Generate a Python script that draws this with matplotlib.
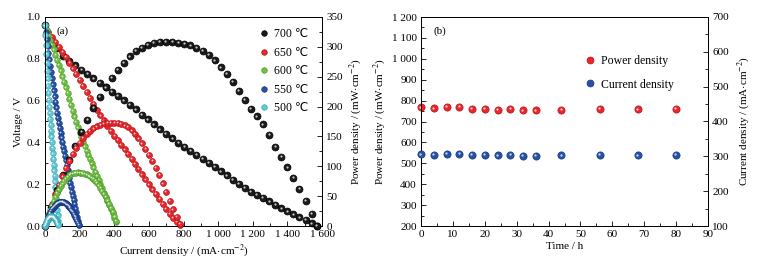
import matplotlib
matplotlib.use("Agg")
import matplotlib.pyplot as plt
from matplotlib.lines import Line2D
from matplotlib.ticker import MultipleLocator, FuncFormatter
from matplotlib.transforms import offset_copy

plt.rcParams['font.family'] = ['Liberation Serif', 'DejaVu Sans']
plt.rcParams['mathtext.fontset'] = 'stix'
plt.rcParams['font.size'] = 8

# ---------------- data: panel (a) ----------------
i700 = [0, 35, 70, 105, 140, 175, 210, 245, 280, 315, 350, 385, 420, 455, 490, 525, 560, 595,
        630, 665, 700, 735, 770, 805, 840, 875, 910, 945, 980, 1015, 1050, 1085, 1120, 1155,
        1190, 1225, 1260, 1295, 1330, 1365, 1400, 1435, 1470, 1505, 1540, 1570]
v700 = [0.960, 0.900, 0.850, 0.815, 0.790, 0.768, 0.748, 0.727, 0.706, 0.685, 0.664, 0.643,
        0.622, 0.601, 0.580, 0.558, 0.533, 0.510, 0.486, 0.463, 0.440, 0.419, 0.398, 0.379,
        0.360, 0.341, 0.322, 0.303, 0.283, 0.262, 0.243, 0.222, 0.202, 0.183, 0.165, 0.150,
        0.135, 0.118, 0.100, 0.085, 0.070, 0.056, 0.042, 0.028, 0.013, 0.000]
p700 = [0, 31.5, 59.5, 85.6, 110.6, 134.4, 157.1, 178.1, 197.7, 215.8, 232.4, 247.6, 261.2,
        273.5, 284.2, 293.0, 298.5, 303.5, 306.2, 307.9, 308.0, 308.0, 306.5, 305.1, 302.4,
        298.4, 293.0, 286.3, 277.3, 265.9, 255.2, 240.9, 226.2, 211.4, 196.4, 183.8, 170.1,
        152.8, 133.0, 116.0, 98.0, 80.4, 61.7, 42.1, 20.0, 0]

i650 = [0, 20, 40, 60, 80, 100, 120, 140, 160, 180, 200, 220, 240, 260, 280, 300, 320, 340,
        360, 380, 400, 420, 440, 460, 480, 500, 520, 540, 560, 580, 600, 620, 640, 660, 680,
        700, 720, 740, 760, 780]
v650 = [0.960, 0.930, 0.905, 0.880, 0.856, 0.832, 0.808, 0.782, 0.755, 0.727, 0.699, 0.670,
        0.641, 0.612, 0.584, 0.556, 0.530, 0.505, 0.480, 0.456, 0.433, 0.411, 0.389, 0.367,
        0.345, 0.320, 0.296, 0.272, 0.247, 0.223, 0.199, 0.176, 0.153, 0.130, 0.105, 0.081,
        0.058, 0.038, 0.020, 0.005]
p650 = [0, 18.6, 36.2, 52.8, 68.5, 83.2, 97.0, 109.5, 120.8, 130.9, 139.8, 147.4, 153.8,
        159.1, 163.5, 166.8, 169.6, 171.7, 172.8, 173.3, 173.2, 172.6, 171.2, 168.8, 165.6,
        160.0, 153.9, 146.9, 138.3, 129.3, 119.4, 109.1, 97.9, 85.8, 71.4, 56.7, 41.8, 28.1,
        15.2, 3.9]

i600 = [0, 10, 20, 30, 40, 50, 60, 70, 80, 90, 100, 110, 120, 130, 140, 150, 160, 170, 180,
        190, 200, 210, 220, 230, 240, 250, 260, 270, 280, 290, 300, 310, 320, 330, 340, 350,
        360, 370, 380, 390, 400, 410]
v600 = [0.960, 0.937, 0.914, 0.891, 0.868, 0.845, 0.820, 0.795, 0.770, 0.745, 0.716, 0.690,
        0.663, 0.636, 0.608, 0.580, 0.552, 0.525, 0.497, 0.472, 0.447, 0.424, 0.402, 0.381,
        0.360, 0.340, 0.320, 0.300, 0.280, 0.260, 0.240, 0.220, 0.200, 0.180, 0.160, 0.140,
        0.120, 0.100, 0.080, 0.060, 0.040, 0.020]
p600 = [0, 9.4, 18.3, 26.7, 34.7, 42.3, 49.2, 55.7, 61.6, 67.1, 71.6, 75.9, 79.6, 82.7, 85.1,
        87.0, 88.3, 89.3, 89.5, 89.7, 89.4, 89.0, 88.4, 87.6, 86.4, 85.0, 83.2, 81.0, 78.4,
        75.4, 72.0, 68.2, 64.0, 59.4, 54.4, 49.0, 43.2, 37.0, 30.4, 23.4, 16.0, 8.2]

i550 = [0, 5, 10, 15, 20, 25, 30, 35, 40, 45, 50, 55, 60, 65, 70, 75, 80, 85, 90, 95, 100,
        105, 110, 115, 120, 125, 130, 135, 140, 145, 150, 155, 160, 165, 170, 175, 180, 185,
        190, 195]
v550 = [0.960, 0.926, 0.893, 0.861, 0.829, 0.798, 0.767, 0.737, 0.707, 0.678, 0.649, 0.621,
        0.594, 0.567, 0.541, 0.516, 0.492, 0.469, 0.446, 0.424, 0.402, 0.380, 0.358, 0.336,
        0.314, 0.292, 0.270, 0.249, 0.228, 0.207, 0.186, 0.165, 0.145, 0.125, 0.105, 0.085,
        0.065, 0.045, 0.026, 0.007]
p550 = [0, 4.6, 8.9, 12.9, 16.6, 20.0, 23.0, 25.8, 28.3, 30.5, 32.5, 34.2, 35.6, 36.9, 37.9,
        38.7, 39.4, 39.9, 40.1, 40.3, 40.2, 39.9, 39.4, 38.6, 37.7, 36.5, 35.1, 33.6, 31.9,
        30.0, 27.9, 25.6, 23.2, 20.6, 17.9, 14.9, 11.7, 8.3, 4.9, 1.4]

i500 = [0, 2.5, 5, 7.5, 10, 12.5, 15, 17.5, 20, 22.5, 25, 27.5, 30, 32.5, 35, 37.5, 40, 42.5,
        45, 47.5, 50, 52.5, 55, 57.5, 60, 62.5, 65, 67.5, 70, 72.5, 75]
v500 = [0.960, 0.912, 0.866, 0.823, 0.782, 0.743, 0.706, 0.670, 0.636, 0.603, 0.571, 0.541,
        0.512, 0.484, 0.456, 0.429, 0.402, 0.375, 0.348, 0.321, 0.294, 0.267, 0.240, 0.213,
        0.186, 0.159, 0.132, 0.105, 0.078, 0.051, 0.024]
p500 = [0, 2.3, 4.3, 6.2, 7.8, 9.3, 10.6, 11.7, 12.7, 13.6, 14.3, 14.9, 15.4, 15.7, 16.0,
        16.1, 16.1, 15.9, 15.7, 15.2, 14.7, 14.0, 13.2, 12.2, 11.2, 9.9, 8.6, 7.1, 5.5, 3.7, 1.8]

temp_labels = ['700 ℃', '650 ℃', '600 ℃', '550 ℃', '500 ℃']

# ---------------- data: panel (b) ----------------
time_h = [0, 4, 8, 12, 16, 20, 24, 28, 32, 36, 44, 56, 68, 80]
power_b = [767, 763, 769, 770, 762, 759, 757, 759, 754, 753, 757, 759, 758, 759]
current_b = [305.5, 305, 307.5, 307.5, 305, 303.5, 302.5, 303.5, 301.5, 301.5, 302.5, 303.5, 303, 303.5]

# ---------------- styling ----------------
colors = ['#1a1a1a', '#e8262b', '#72c043', '#2552a8', '#62cad6']
edges = ['#000000', '#b5161a', '#4f9a2a', '#16387a', '#3aa6b4']
msizes = [5.0, 4.2, 4.0, 4.0, 4.0]

W, H = 771, 265
fig = plt.figure(figsize=(W / 100, H / 100), dpi=100)
ax1 = fig.add_axes([45 / W, 39 / H, 277 / W, 209 / H])
ax1r = ax1.twinx()
ax2 = fig.add_axes([421 / W, 39 / H, 287 / W, 209 / H])
ax2r = ax2.twinx()


def spheres(ax, x, y, color, edge, ms, z=3):
    ax.plot(x, y, ls='none', marker='o', ms=ms, mfc=color, mec=edge, mew=0.5,
            zorder=z, clip_on=False)
    tr = offset_copy(ax.transData, fig=fig, x=-0.5, y=0.5, units='points')
    ax.plot(x, y, ls='none', marker='o', ms=ms * 0.32, mfc='white', mec='none',
            alpha=0.75, transform=tr, zorder=z + 0.1, clip_on=False)


curves = [(i700, v700, p700), (i650, v650, p650), (i600, v600, p600),
          (i550, v550, p550), (i500, v500, p500)]
for k, (ii, vv, pp) in enumerate(curves):
    spheres(ax1, ii, vv, colors[k], edges[k], msizes[k], z=3 + k * 0.2)
    spheres(ax1r, ii, pp, colors[k], edges[k], msizes[k], z=3 + k * 0.2)

ax1.set_xlim(0, 1600)
ax1.set_ylim(0, 1.0)
ax1r.set_ylim(0, 350)
ax1.xaxis.set_major_locator(MultipleLocator(200))
ax1.xaxis.set_minor_locator(MultipleLocator(100))
ax1.yaxis.set_major_locator(MultipleLocator(0.2))
ax1.yaxis.set_minor_locator(MultipleLocator(0.1))
ax1r.yaxis.set_major_locator(MultipleLocator(50))
ax1r.yaxis.set_minor_locator(MultipleLocator(25))
sp = FuncFormatter(lambda v, p: f"{int(round(v)):,}".replace(",", " "))
ax1.xaxis.set_major_formatter(sp)
ax1.yaxis.set_major_formatter(FuncFormatter(lambda v, p: f"{v:.1f}"))
ax1.set_xlabel(r'Current density / (mA$\cdot$cm$^{-2}$)', labelpad=2)
ax1.set_ylabel('Voltage / V', labelpad=3)
ax1r.set_ylabel(r'Power density / (mW$\cdot$cm$^{-2}$)', labelpad=3)
ax1.text(0.065, 0.93, '(a)', transform=ax1.transAxes, ha='center', va='center', fontsize=8)

handles = [Line2D([], [], ls='none', marker='o', ms=4, mfc=colors[k], mec=edges[k], mew=0.5)
           for k in range(5)]
ax1.legend(handles, temp_labels, loc='upper left', bbox_to_anchor=(0.74, 0.985),
           frameon=False, handletextpad=0.3, labelspacing=0.55, borderpad=0.2,
           handlelength=1.0, fontsize=8.5)

# panel (b)
spheres(ax2, time_h, power_b, colors[1], edges[1], 5.2)
spheres(ax2r, time_h, current_b, colors[3], edges[3], 5.2)
ax2.set_xlim(0, 90)
ax2.set_ylim(200, 1200)
ax2r.set_ylim(100, 700)
ax2.xaxis.set_major_locator(MultipleLocator(10))
ax2.xaxis.set_minor_locator(MultipleLocator(5))
ax2.yaxis.set_major_locator(MultipleLocator(100))
ax2.yaxis.set_minor_locator(MultipleLocator(50))
ax2r.yaxis.set_major_locator(MultipleLocator(100))
ax2r.yaxis.set_minor_locator(MultipleLocator(50))
ax2.yaxis.set_major_formatter(sp)
ax2.set_xlabel('Time / h', labelpad=2)
ax2.set_ylabel(r'Power density / (mW$\cdot$cm$^{-2}$)', labelpad=3)
ax2r.set_ylabel(r'Current density / (mA$\cdot$cm$^{-2}$)', labelpad=5)
ax2.text(0.066, 0.93, '(b)', transform=ax2.transAxes, ha='center', va='center', fontsize=8)
h2 = [Line2D([], [], ls='none', marker='o', ms=5, mfc=colors[1], mec=edges[1], mew=0.5),
      Line2D([], [], ls='none', marker='o', ms=5, mfc=colors[3], mec=edges[3], mew=0.5)]
ax2.legend(h2, ['Power density', 'Current density'], loc='upper left',
           bbox_to_anchor=(0.53, 0.87), frameon=False, handletextpad=0.5,
           labelspacing=1.0, handlelength=1.0, fontsize=8.5)

for a in (ax1, ax1r, ax2, ax2r):
    a.tick_params(which='both', direction='in', labelsize=8, pad=3)
    a.tick_params(which='major', length=3.5, width=0.6)
    a.tick_params(which='minor', length=2, width=0.6)
    for s in a.spines.values():
        s.set_linewidth(0.7)
for a in (ax1, ax2):
    a.tick_params(which='both', top=False, right=False)

fig.savefig('out.png', dpi=100)
